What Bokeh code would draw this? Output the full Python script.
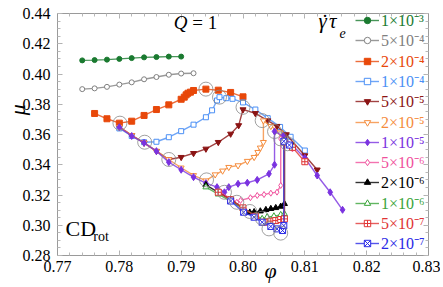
from bokeh.plotting import figure
from bokeh.models import (Range1d, LinearAxis, FixedTicker, PrintfTickFormatter,
                          CustomJSTickFormatter, Legend, LegendItem, Label)
from bokeh.embed import file_html
from bokeh.resources import INLINE

# ---------------- data ----------------
rate_labels = ["1×10⁻³", "5×10⁻⁴", "2×10⁻⁴", "1×10⁻⁴", "5×10⁻⁵", "2×10⁻⁵",
               "1×10⁻⁵", "5×10⁻⁶", "2×10⁻⁶", "1×10⁻⁶", "5×10⁻⁷", "2×10⁻⁷"]

x_ticks = [0.77, 0.78, 0.79, 0.80, 0.81, 0.82, 0.83]
y_ticks = [0.28, 0.30, 0.32, 0.34, 0.36, 0.38, 0.40, 0.42, 0.44]

phi_1e3 = [0.774, 0.776, 0.778, 0.780, 0.782, 0.784, 0.786, 0.788, 0.790]
mu_1e3 = [0.4090, 0.4092, 0.4095, 0.4100, 0.4105, 0.4110, 0.4112, 0.4115, 0.4115]

phi_5e4 = [0.774, 0.776, 0.778, 0.780, 0.782, 0.784, 0.786, 0.788, 0.790, 0.792]
mu_5e4 = [0.3900, 0.3905, 0.3915, 0.3930, 0.3945, 0.3965, 0.3980, 0.3995, 0.4003, 0.4005]

phi_2e4 = [0.776, 0.778, 0.780, 0.782, 0.784, 0.786, 0.788, 0.790, 0.7905, 0.7908, 0.7911,
           0.7915, 0.7920, 0.794, 0.796, 0.798, 0.800]
mu_2e4 = [0.3739, 0.3704, 0.3675, 0.3688, 0.3726, 0.3765, 0.3796, 0.3833, 0.3847, 0.3862, 0.3873,
          0.3880, 0.3891, 0.3900, 0.3893, 0.3878, 0.3849]

phi_1e4 = [0.780, 0.782, 0.784, 0.786, 0.788, 0.790, 0.792, 0.794, 0.795, 0.7958, 0.7962, 0.7973,
           0.7983, 0.800, 0.802, 0.804, 0.806, 0.8077, 0.810]
mu_1e4 = [0.3640, 0.3590, 0.3549, 0.3552, 0.3582, 0.3622, 0.3665, 0.3714, 0.3760, 0.3825, 0.3847, 0.3840,
          0.3836, 0.3812, 0.3765, 0.3708, 0.3650, 0.3585, 0.3494]

phi_5e5 = [0.780, 0.782, 0.784, 0.786, 0.788, 0.790, 0.792, 0.794, 0.796, 0.798, 0.7993, 0.800,
           0.802, 0.804, 0.8055, 0.807, 0.810, 0.812]
mu_5e5 = [0.3650, 0.3595, 0.3545, 0.3490, 0.3435, 0.3450, 0.3476, 0.3505, 0.3549, 0.3604, 0.3660, 0.3765,
          0.3740, 0.3692, 0.3655, 0.3600, 0.3461, 0.3367]

phi_2e5 = [0.780, 0.782, 0.784, 0.786, 0.788, 0.790, 0.792, 0.794, 0.7955, 0.7967, 0.7977, 0.7992,
           0.8007, 0.8018, 0.8024, 0.8028, 0.8033, 0.8033, 0.8045, 0.806]
mu_2e5 = [0.3650, 0.3595, 0.3545, 0.3490, 0.3435, 0.3380, 0.3330, 0.3295, 0.3335, 0.3360, 0.3384, 0.3395,
          0.3424, 0.3450, 0.3483, 0.3512, 0.3549, 0.3692, 0.3655, 0.3612]

phi_1e5 = [0.780, 0.782, 0.784, 0.786, 0.788, 0.790, 0.792, 0.794, 0.7958, 0.797, 0.7977, 0.7992,
           0.8007, 0.8023, 0.8042, 0.8051, 0.8051, 0.8065, 0.810, 0.812, 0.8141, 0.8161]
mu_1e5 = [0.3648, 0.3590, 0.3545, 0.3490, 0.3417, 0.3367, 0.3318, 0.3278, 0.3252, 0.3218, 0.3252, 0.3274,
          0.3281, 0.3300, 0.3340, 0.3400, 0.3620, 0.3590, 0.3445, 0.3329, 0.3218, 0.3102]

phi_5e6 = [0.796, 0.799, 0.7996, 0.8012, 0.8023, 0.8034, 0.8045, 0.8055, 0.8061, 0.8061, 0.8072, 0.808]
mu_5e6 = [0.3225, 0.3152, 0.3164, 0.3182, 0.3197, 0.3203, 0.3212, 0.3219, 0.3263, 0.3571, 0.3540, 0.3505]

phi_2e6 = [0.794, 0.796, 0.798, 0.8001, 0.8011, 0.8018, 0.8028, 0.8037, 0.8045, 0.8053, 0.8061,
           0.8067, 0.8067, 0.808]
mu_2e6 = [0.3267, 0.3218, 0.3170, 0.3112, 0.3085, 0.3088, 0.3093, 0.3102, 0.3109, 0.3115, 0.3124,
          0.3142, 0.3560, 0.3525]

phi_1e6 = [0.794, 0.796, 0.798, 0.800, 0.802, 0.8031, 0.8039, 0.805, 0.8061, 0.8067, 0.8067, 0.808]
mu_1e6 = [0.3252, 0.3205, 0.3160, 0.3110, 0.3065, 0.3043, 0.3054, 0.3060, 0.3069, 0.3075, 0.3555, 0.3520]

phi_5e7 = [0.796, 0.798, 0.800, 0.802, 0.8034, 0.8045, 0.8053, 0.8061, 0.8067, 0.8067, 0.808, 0.810]
mu_5e7 = [0.3218, 0.3170, 0.3115, 0.3060, 0.3020, 0.3027, 0.3031, 0.3038, 0.3042, 0.3550, 0.3515, 0.3420]

phi_2e7 = [0.798, 0.8001, 0.8018, 0.8031, 0.8045, 0.8055, 0.8064, 0.8066, 0.8066, 0.8075]
mu_2e7 = [0.3160, 0.3086, 0.3053, 0.3020, 0.2992, 0.2976, 0.2965, 0.2998, 0.3555, 0.3530]

# grey circles marking turning points
circ_phi = [0.7801, 0.7841, 0.7880, 0.7941, 0.7970, 0.7990, 0.8011, 0.8031, 0.8042, 0.8061,
            0.7940, 0.7962, 0.8000, 0.8031, 0.8051, 0.8061, 0.8072]
circ_mu = [0.3675, 0.3549, 0.3435, 0.3300, 0.3218, 0.3152, 0.3091, 0.3047, 0.2976, 0.2948,
           0.3900, 0.3847, 0.3780, 0.3692, 0.3620, 0.3571, 0.3539]

series = [
    (phi_1e3, mu_1e3, "#1a7a30", "circle", True, 5),
    (phi_5e4, mu_5e4, "#808080", "circle", False, 5),
    (phi_2e4, mu_2e4, "#e8480a", "square", True, 6),
    (phi_1e4, mu_1e4, "#4a8ff5", "square", False, 5),
    (phi_5e5, mu_5e5, "#8b1414", "inverted_triangle", True, 6),
    (phi_2e5, mu_2e5, "#f58c3c", "inverted_triangle", False, 6),
    (phi_1e5, mu_1e5, "#7a32e0", "diamond", True, 7),
    (phi_5e6, mu_5e6, "#f0509c", "diamond", False, 6),
    (phi_2e6, mu_2e6, "#000000", "triangle", True, 6),
    (phi_1e6, mu_1e6, "#3aa43a", "triangle", False, 6),
    (phi_5e7, mu_5e7, "#e03434", "square_cross", False, 6),
    (phi_2e7, mu_2e7, "#2a2ae6", "square_x", False, 6),
]

# minor tick positions (between the labelled ticks)
x_minor = [round(x_ticks[0] + 0.002 * k, 3) for k in range(31)]
y_minor = [round(y_ticks[0] + 0.005 * k, 3) for k in range(33)]

# ---------------- figure ----------------
p = figure(width=440, height=286, x_range=Range1d(0.77, 0.83), y_range=Range1d(0.28, 0.44),
           output_backend="svg", toolbar_location=None,
           min_border_left=57, min_border_right=12, min_border_top=13, min_border_bottom=31)
p.grid.visible = False
p.outline_line_color = "#9a9a9a"
p.background_fill_color = "white"
p.border_fill_color = "white"

serif = "Liberation Serif"
NBSP = "\u00a0"


def style_axis(ax, ticks, minor, labels=True):
    ax.ticker = FixedTicker(ticks=ticks, minor_ticks=minor)
    ax.axis_line_color = "#9a9a9a"
    ax.major_tick_in = 5
    ax.major_tick_out = 0
    ax.minor_tick_in = 3
    ax.minor_tick_out = 0
    ax.major_tick_line_color = "#b0b0b0"
    ax.minor_tick_line_color = "#b8b8b8"
    ax.major_label_text_font = serif
    if labels:
        ax.formatter = PrintfTickFormatter(format="%.2f")
        ax.major_label_text_font_size = "16px"
        ax.major_label_text_color = "black"
        ax.major_label_standoff = 5
        ax.axis_label_text_font = serif
        ax.axis_label_text_font_style = "italic"
        ax.axis_label_text_font_size = "22px"
        ax.axis_label_text_color = "black"
    else:
        ax.formatter = CustomJSTickFormatter(code="return ''")
        ax.major_label_text_font_size = "2px"
        ax.major_label_text_color = None
        ax.major_label_standoff = 0


style_axis(p.xaxis[0], x_ticks, x_minor)
style_axis(p.yaxis[0], y_ticks, y_minor)
p.yaxis[0].major_label_standoff = 7
# axis titles, nudged towards their places in the original
p.xaxis[0].axis_label = NBSP * 10 + "φ"
p.xaxis[0].axis_label_standoff = -17
p.yaxis[0].axis_label = NBSP * 9 + "μ"
p.yaxis[0].axis_label_standoff = -10

top_ax = LinearAxis()
style_axis(top_ax, x_ticks, x_minor, labels=False)
p.add_layout(top_ax, "above")
right_ax = LinearAxis()
style_axis(right_ax, y_ticks, y_minor, labels=False)
p.add_layout(right_ax, "right")

renderers = []
for phi, mu, col, mk, filled, sz in series:
    lr = p.line(phi, mu, line_color=col, line_width=1.4, line_alpha=0.8)
    sr = p.scatter(phi, mu, marker=mk, size=sz, line_color=col, line_width=1.0,
                   fill_color=col if filled else "white")
    renderers.append((lr, sr, col))

p.scatter(circ_phi, circ_mu, marker="circle", size=14, fill_color=None,
          line_color="#888888", line_width=0.8)

# per-entry legends (each with its own text colour)
for i, (lr, sr, col) in enumerate(renderers):
    leg = Legend(items=[LegendItem(label=rate_labels[i], renderers=[lr, sr])],
                 location=(298, 224 - 20.3 * i),
                 label_text_color=col, label_text_font=serif,
                 label_text_font_size="16px", glyph_width=24, glyph_height=16,
                 label_height=16, label_standoff=2, padding=0, margin=0, spacing=0,
                 border_line_alpha=0, background_fill_alpha=0)
    p.add_layout(leg)

p.add_layout(Label(x=0.7888, y=0.4268, text="Q", text_font=serif, text_font_style="italic",
                   text_font_size="19px", text_color="black"))
p.add_layout(Label(x=0.7918, y=0.4268, text="=  1", text_font=serif,
                   text_font_size="19px", text_color="black"))
p.add_layout(Label(x=0.8122, y=0.4274, text="γ", text_font=serif, text_font_style="italic",
                   text_font_size="21px", text_color="black"))
p.add_layout(Label(x=0.8127, y=0.4262, text="˙", text_font=serif,
                   text_font_size="21px", text_color="black"))
p.add_layout(Label(x=0.8139, y=0.4274, text="τ", text_font=serif, text_font_style="italic",
                   text_font_size="21px", text_color="black"))
p.add_layout(Label(x=0.8156, y=0.4241, text="e", text_font=serif, text_font_style="italic",
                   text_font_size="14px", text_color="black"))
p.add_layout(Label(x=0.7713, y=0.2899, text="CD", text_font=serif,
                   text_font_size="22px", text_color="black"))
p.add_layout(Label(x=0.7758, y=0.2873, text="rot", text_font=serif,
                   text_font_size="14px", text_color="black"))

open("out.html", "w").write(file_html(p, INLINE))
